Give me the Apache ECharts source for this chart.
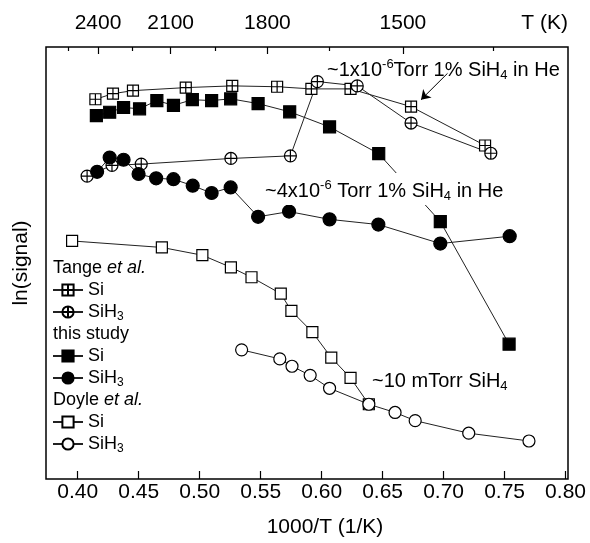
<!DOCTYPE html>
<html><head><meta charset="utf-8">
<script src="https://cdn.jsdelivr.net/npm/echarts@6/dist/echarts.min.js"></script>
<style>html,body{margin:0;padding:0;background:#fff}#c{width:590px;height:543px}</style>
</head><body><div id="c"></div>
<script>
// ---- data ----
const bottomTicks = [0.40, 0.45, 0.50, 0.55, 0.60, 0.65, 0.70, 0.75, 0.80];
const topTempMajor = [2400, 2100, 1800, 1500];
const topTempMinor = [2550, 2250, 1950, 1650, 1350];

const tangeSi = [[0.4145,8.79],[0.4289,8.92],[0.4453,8.99],[0.4886,9.06],[0.5267,9.10],[0.5635,9.08],[0.5916,9.03],[0.6237,9.03],[0.6733,8.62],[0.7340,7.72]];
const tangeSiH3 = [[0.4077,7.01],[0.4281,7.26],[0.4521,7.29],[0.5256,7.42],[0.5744,7.48],[0.5965,9.20],[0.6292,9.10],[0.6733,8.24],[0.7387,7.54]];
const studySi = [[0.4153,8.41],[0.4262,8.49],[0.4376,8.60],[0.4507,8.57],[0.4649,8.76],[0.4785,8.65],[0.4940,8.78],[0.5098,8.76],[0.5254,8.80],[0.5479,8.69],[0.5738,8.50],[0.6065,8.15],[0.6468,7.53],[0.6973,5.96],[0.7537,3.12]];
const studySiH3 = [[0.4159,7.11],[0.4262,7.44],[0.4376,7.39],[0.4499,7.06],[0.4643,6.96],[0.4785,6.94],[0.4943,6.79],[0.5098,6.62],[0.5254,6.75],[0.5479,6.07],[0.5733,6.19],[0.6065,6.01],[0.6465,5.89],[0.6973,5.45],[0.7542,5.62]];
const doyleSi = [[0.3954,5.51],[0.4690,5.36],[0.5022,5.18],[0.5256,4.90],[0.5425,4.67],[0.5665,4.29],[0.5752,3.89],[0.5924,3.40],[0.6079,2.81],[0.6237,2.34],[0.6387,1.73]];
const doyleSiH3 = [[0.5344,2.99],[0.5657,2.78],[0.5757,2.61],[0.5906,2.40],[0.6065,2.10],[0.6387,1.73],[0.6602,1.54],[0.6767,1.35],[0.7206,1.06],[0.7700,0.88]];

// ---- chart ----
const FF = '"Liberation Sans", Arial, sans-serif';
const XMIN = 0.374, XMAX = 0.802;
const topMajorVals = topTempMajor.map(t => 1000 / t);
const topMinorVals = topTempMinor.map(t => 1000 / t);
const crossSquare = 'path://M0,0H10V10H0Z M5,0V10 M0,5H10';
const crossCircle = 'path://M5,0A5,5,0,1,1,5,10A5,5,0,1,1,5,0Z M5,0V10 M0,5H10';
const lineStyle = { color: '#222', width: 1 };

function S(name, data, symbol, size, fill, extra) {
  return Object.assign({
    name, type: 'line', data, symbol, symbolSize: size, showSymbol: true,
    lineStyle, itemStyle: { color: fill, borderColor: '#000', borderWidth: 1.2 },
    emphasis: { disabled: true }, animation: false, silent: true
  }, extra || {});
}

const legendText = { fontSize: 18, lineHeight: 22, color: '#000', fontFamily: FF,
  rich: { sub: { fontSize: 12, verticalAlign: 'bottom', fontFamily: FF, color: '#000' } } };
const legendFmt = n => n.endsWith('SiH3') ? 'SiH{sub|3}' : 'Si';
function L(names, top) {
  return { data: names, orient: 'vertical', left: 52, top, padding: 0, itemWidth: 30, itemHeight: 14,
    itemGap: 0, formatter: legendFmt, textStyle: legendText, selectedMode: false };
}

const annRich = {
  sup: { fontSize: 13, verticalAlign: 'top', fontFamily: FF, fill: '#000' },
  sub: { fontSize: 13, verticalAlign: 'bottom', fontFamily: FF, fill: '#000' }
};
function T(text, left, top, bg) {
  return { type: 'text', left, top, z: 50, style: Object.assign({ text, fill: '#000', fontSize: 20, fontFamily: FF,
    lineHeight: 24, rich: annRich }, bg ? { backgroundColor: '#fff', padding: [6, 2, 2, 2] } : {}) };
}
const headRich = { i: { fontStyle: 'italic', fontSize: 18, fontFamily: FF, fill: '#000' } };
function H(text, top) {
  return { type: 'text', left: 53, top, style: { text, fill: '#000', fontSize: 18, fontFamily: FF, lineHeight: 22, rich: headRich } };
}

const chart = echarts.init(document.getElementById('c'), null, { renderer: 'canvas' });
chart.setOption({
  animation: false,
  backgroundColor: '#fff',
  grid: { left: 46, right: 22, top: 47, bottom: 60, show: true, borderColor: '#000', borderWidth: 1.5 },
  xAxis: [
    { type: 'value', position: 'bottom', min: XMIN, max: XMAX,
      axisLine: { show: false }, splitLine: { show: false },
      axisTick: { inside: true, length: 8, customValues: bottomTicks, lineStyle: { color: '#000', width: 1.2 } },
      axisLabel: { customValues: bottomTicks, formatter: v => v.toFixed(2), fontSize: 21, color: '#000', margin: 3, fontFamily: FF },
      name: '1000/T (1/K)', nameLocation: 'middle', nameGap: 38,
      nameTextStyle: { fontSize: 21, color: '#000', fontFamily: FF, padding: [0, 0, 0, 36] } },
    { type: 'value', position: 'top', min: XMIN, max: XMAX,
      axisLine: { show: false }, splitLine: { show: false },
      axisTick: { inside: true, length: 7, customValues: topMajorVals, lineStyle: { color: '#000', width: 1.2 } },
      axisLabel: { customValues: topMajorVals, formatter: v => String(Math.round(1000 / v)), fontSize: 21, color: '#000', margin: 13, fontFamily: FF },
      name: 'T (K)', nameLocation: 'end', nameGap: 0,
      nameTextStyle: { fontSize: 21, color: '#000', fontFamily: FF, align: 'right', verticalAlign: 'bottom', padding: [0, 0, 13, 0] } },
    { type: 'value', position: 'top', min: XMIN, max: XMAX,
      axisLine: { show: false }, splitLine: { show: false },
      axisTick: { inside: true, length: 4, customValues: topMinorVals, lineStyle: { color: '#000', width: 1.2 } },
      axisLabel: { show: false } }
  ],
  yAxis: [{ type: 'value', min: 0, max: 10, axisLine: { show: false }, axisTick: { show: false },
    axisLabel: { show: false }, splitLine: { show: false },
    name: 'ln(signal)', nameLocation: 'middle', nameGap: 14,
    nameTextStyle: { fontSize: 21, color: '#000', fontFamily: FF } }],
  legend: [L(['Tange Si', 'Tange SiH3'], 279), L(['Study Si', 'Study SiH3'], 345), L(['Doyle Si', 'Doyle SiH3'], 411)],
  graphic: [
    T('~1x10{sup|-6}Torr 1% SiH{sub|4} in He', 327, 58, false),
    T('~4x10{sup|-6} Torr 1% SiH{sub|4} in He', 263, 173, true),
    T('~10 mTorr SiH{sub|4}', 372, 369, false),
    H('Tange {i|et al.}', 257),
    H('this study', 323),
    H('Doyle {i|et al.}', 389)
  ],
  series: [
    S('Tange Si', tangeSi, crossSquare, 11, '#fff', {
      markLine: { silent: true, symbol: ['none', 'arrow'], symbolSize: 9, animation: false,
        lineStyle: { color: '#000', width: 1, type: 'solid' }, label: { show: false },
        data: [[{ coord: [0.7032, 9.39] }, { coord: [0.6815, 8.78] }]] } }),
    S('Tange SiH3', tangeSiH3, crossCircle, 12, '#fff'),
    S('Study Si', studySi, 'rect', 12, '#000'),
    S('Study SiH3', studySiH3, 'circle', 13, '#000'),
    S('Doyle Si', doyleSi, 'rect', 11, '#fff'),
    S('Doyle SiH3', doyleSiH3, 'circle', 12, '#fff')
  ]
});
</script></body></html>
